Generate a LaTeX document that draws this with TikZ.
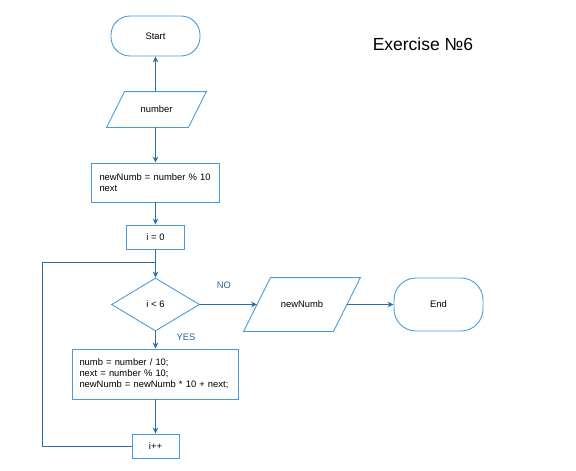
\documentclass[tikz,border=0pt]{standalone}
\usepackage{fontspec}
\setmainfont{Liberation Sans}
\usetikzlibrary{arrows.meta,shapes.geometric}
\definecolor{nodeblue}{RGB}{72,156,222}
\definecolor{lineblue}{RGB}{42,110,168}
\definecolor{labblue}{RGB}{40,100,158}
\tikzset{
  base/.style={draw=nodeblue, line width=0.9pt, inner sep=0pt, font=\fontsize{9.4}{11}\selectfont},
  term/.style={base, rectangle, rounded corners=19pt, minimum width=89pt},
  io/.style={base, draw=none, rectangle},
  iobox/.style={draw=nodeblue, line width=0.9pt, line join=miter},
  proc/.style={base, rectangle},
  dec/.style={base, diamond, minimum width=88pt, minimum height=53pt},
  conn/.style={draw=lineblue, line width=0.9pt},
  arr/.style={conn, -{Stealth[length=6pt,width=5.5pt]}},
  lab/.style={text=labblue, font=\fontsize{9.4}{11}\selectfont}
}
\begin{document}
\begin{tikzpicture}[x=1pt,y=-1pt]
\useasboundingbox (0,0) rectangle (576,471);
\node[term, minimum height=40pt] (start) at (155.5,36) {Start};
\node[io, minimum width=81pt, minimum height=35pt] (num) at (156.5,109.5) {number};
\draw[iobox] ([xshift=-9pt]num.south west) -- ([xshift=-9pt]num.south east) -- ([xshift=9pt]num.north east) -- ([xshift=9pt]num.north west) -- cycle;
\node[proc, minimum width=128pt, minimum height=39pt, inner xsep=8pt, text width=112pt, align=left] (b1) at (155.5,182.5) {newNumb = number \% 10\\next};
\node[proc, minimum width=58pt, minimum height=24pt] (i0) at (155.5,237) {i = 0};
\node[dec] (d) at (155.5,304.5) {i < 6};
\node[io, minimum width=89pt, minimum height=53pt] (nn) at (302,304.5) {newNumb};
\draw[iobox] ([xshift=-13.5pt]nn.south west) -- ([xshift=-13.5pt]nn.south east) -- ([xshift=13.5pt]nn.north east) -- ([xshift=13.5pt]nn.north west) -- cycle;
\node[term, minimum height=53pt, rounded corners=22pt] (end) at (438.5,304.5) {End};
\node[proc, minimum width=166pt, minimum height=50pt, inner xsep=7pt, text width=152pt, align=left] (body) at (155.5,374) {numb = number / 10;\\next = number \% 10;\\newNumb = newNumb * 10 + next;};
\node[proc, minimum width=47pt, minimum height=24pt] (ipp) at (155.5,446) {i++};
\node[font=\fontsize{17.5}{20}\selectfont] (title) at (423,44) {Exercise №6};
\node[lab] (no) at (224,285) {NO};
\node[lab] (yes) at (186,337.5) {YES};
\coordinate (lp) at (42,262);

\draw[arr] (num.north -| start.south) -- (start.south);
\draw[arr] (num.south -| b1.north) -- (b1.north);
\draw[arr] (b1) -- (i0);
\draw[arr] (i0) -- (d);
\draw[arr] (d.east) -- (nn.west);
\draw[arr] (nn.east) -- (end.west);
\draw[arr] (d) -- (body);
\draw[arr] (body) -- (ipp);
\draw[conn] (ipp.west) -| (lp) -- (lp -| d.north);
\end{tikzpicture}
\end{document}
